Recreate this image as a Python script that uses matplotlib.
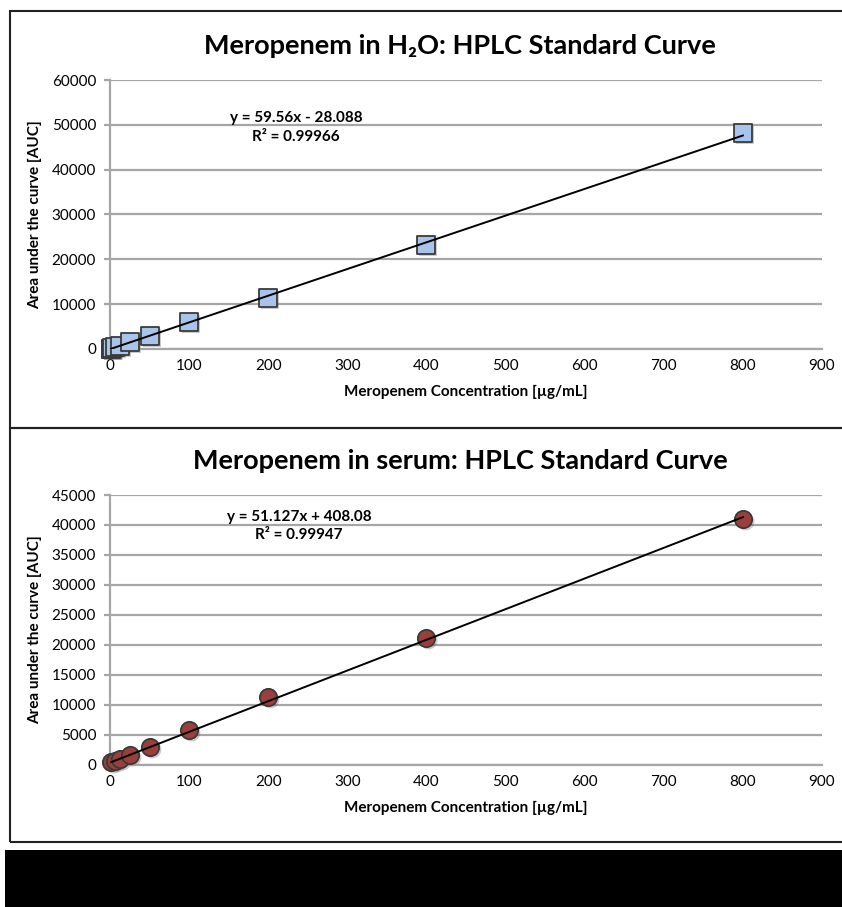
import numpy as np
import matplotlib
matplotlib.use("Agg")
from matplotlib import pyplot as plt
from matplotlib.patches import Rectangle
from matplotlib.transforms import ScaledTranslation

plt.rcParams['font.family'] = ['Lato', 'DejaVu Sans']

# meropenem in water
h2o_conc = [0.78, 1.56, 3.125, 6.25, 12.5, 25, 50, 100, 200, 400, 800]
h2o_auc = [50, 100, 200, 400, 750, 1600, 2900, 6000, 11300, 23200, 48100]
h2o_slope, h2o_icpt = 59.56, -28.088
h2o_eq = ['y = 59.56x - 28.088', 'R² = 0.99966']

# meropenem in serum
serum_conc = [1.56, 6.25, 12.5, 25, 50, 100, 200, 400, 800]
serum_auc = [450, 700, 1000, 1750, 3000, 5800, 11300, 21100, 41000]
serum_slope, serum_icpt = 51.127, 408.08
serum_eq = ['y = 51.127x + 408.08', 'R² = 0.99947']

W, H = 842, 907
fig = plt.figure(figsize=(W / 100, H / 100), dpi=100)


def fx(px):
    return px / W


def fy(py):
    return 1 - py / H


def panel(top, bottom, ax_top, ax_bot, title, title_y, xlab_y, conc, auc,
          slope, icpt, eq, eq_pos, ymax, ystep, marker, face):
    fig.patches.append(Rectangle((fx(10), fy(bottom)), 1.2, fy(top) - fy(bottom),
                                 transform=fig.transFigure, fill=False,
                                 edgecolor='#222222', linewidth=1.5))
    ax = fig.add_axes([fx(110), fy(ax_bot), fx(822) - fx(110), fy(ax_top) - fy(ax_bot)])
    xs = np.array([conc[0], conc[-1]])
    ax.plot(xs, slope * xs + icpt, color='black', linewidth=1.4, zorder=4)
    shadow = ax.transData + ScaledTranslation(2 / 100, -2 / 100, fig.dpi_scale_trans)
    ax.scatter(conc, auc, s=165, marker=marker, color='#555555', alpha=0.3,
               zorder=2, linewidths=0, transform=shadow, clip_on=False)
    ax.scatter(conc, auc, s=155, marker=marker, facecolor=face, edgecolor='#3a3a3a',
               linewidth=1.3, zorder=3, clip_on=False)
    ax.set_xlim(0, 900)
    ax.set_ylim(0, ymax)
    ax.set_xticks(np.arange(0, 901, 100))
    ax.set_yticks(np.arange(0, ymax + 1, ystep))
    ax.grid(axis='y', color='#a6a6a6', linewidth=1.6)
    ax.set_axisbelow(True)
    for s in ['top', 'right']:
        ax.spines[s].set_visible(False)
    ax.spines['left'].set_color('#a6a6a6')
    ax.spines['bottom'].set_color('#a6a6a6')
    ax.spines['left'].set_linewidth(1.6)
    ax.spines['bottom'].set_linewidth(1.6)
    ax.tick_params(axis='y', length=4, color='#a6a6a6', width=1.6, labelsize=11, pad=6)
    ax.tick_params(axis='x', length=0, labelsize=11, pad=7)
    for i, line in enumerate(eq):
        ax.text(eq_pos[0], eq_pos[1][i], line, ha='center', va='center',
                fontsize=11, fontweight='bold')
    fig.text(fx(460), fy(title_y), title, ha='center', va='center',
             fontsize=19.5, fontweight='bold')
    fig.text(fx(466), fy(xlab_y), 'Meropenem Concentration [µg/mL]', ha='center',
             va='center', fontsize=11, fontweight='bold')
    fig.text(fx(35), fy((ax_top + ax_bot) / 2), 'Area under the curve [AUC]',
             ha='center', va='center', rotation=90, fontsize=11, fontweight='bold')
    return ax


panel(11, 428, 80, 349, 'Meropenem in H₂O: HPLC Standard Curve', 46, 392,
      h2o_conc, h2o_auc, h2o_slope, h2o_icpt, h2o_eq, (235, [51500, 47300]),
      60000, 10000, 's', '#a9c4ea')
panel(428, 842, 495, 765, 'Meropenem in serum: HPLC Standard Curve', 461, 808,
      serum_conc, serum_auc, serum_slope, serum_icpt, serum_eq, (239, [41300, 38300]),
      45000, 5000, 'o', '#9b3f3c')

# black bar along the bottom
fig.patches.append(Rectangle((fx(5), 0), 1.0, fy(850), transform=fig.transFigure,
                             facecolor='black', edgecolor='none'))

fig.savefig('out.png', dpi=100)
